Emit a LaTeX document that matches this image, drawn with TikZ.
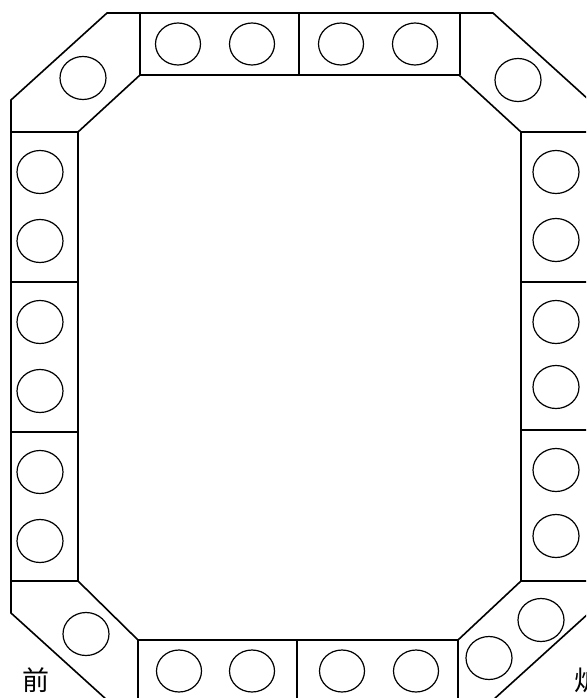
\documentclass[tikz,border=0pt]{standalone}
\usepackage{fontspec}
\usepackage{tikz}
\newfontfamily\cjk{Noto Sans CJK SC}

\begin{document}
\begin{tikzpicture}[
    x=1pt, y=-1pt,
    wall/.style={line width=1.6pt, line join=miter},
    burner/.style={line width=1.2pt},
    label/.style={font=\cjk\fontsize{27}{27}\selectfont, inner sep=0pt}
]
    \useasboundingbox (0,0) rectangle (586,698);
    \clip (0,0) rectangle (586,698);

    % outer and inner outline
    \draw[wall] (107,13) -- (493,13) -- (589,100) -- (589,613) -- (493,700) -- (107,700) -- (11,613) -- (11,100) -- cycle;
    \draw[wall] (140,75) -- (459,75) -- (521,132) -- (521,581) -- (458,640) -- (138,640) -- (78,581) -- (78,132) -- cycle;

    % block dividers
    \foreach \x in {140,299,460} \draw[wall] (\x,13) -- (\x,75);
    \foreach \x in {138,297,458} \draw[wall] (\x,640) -- (\x,700);
    \foreach \y in {132,282,432,581} \draw[wall] (11,\y) -- (78,\y);
    \foreach \y in {132,282,430,581} \draw[wall] (521,\y) -- (589,\y);

    % burners
    \foreach \x in {178,252,341,415} \draw[burner] (\x,44) ellipse (22.5 and 21);
    \foreach \x in {179,252,342,416} \draw[burner] (\x,671) ellipse (22.5 and 21);
    \foreach \y in {172,241,322,391,472,541} \draw[burner] (40,\y) ellipse (23 and 21.5);
    \foreach \y in {172,240,322,387,470,536} \draw[burner] (556,\y) ellipse (23 and 21.5);
    \foreach \p in {(83,78),(518,80),(86,634),(489,658),(541,620)} \draw[burner] \p ellipse (23 and 21.5);

    \node[label] (front) at (36,680) {前};
    \node[label] (furnace) at (588,680) {炉};
\end{tikzpicture}
\end{document}
